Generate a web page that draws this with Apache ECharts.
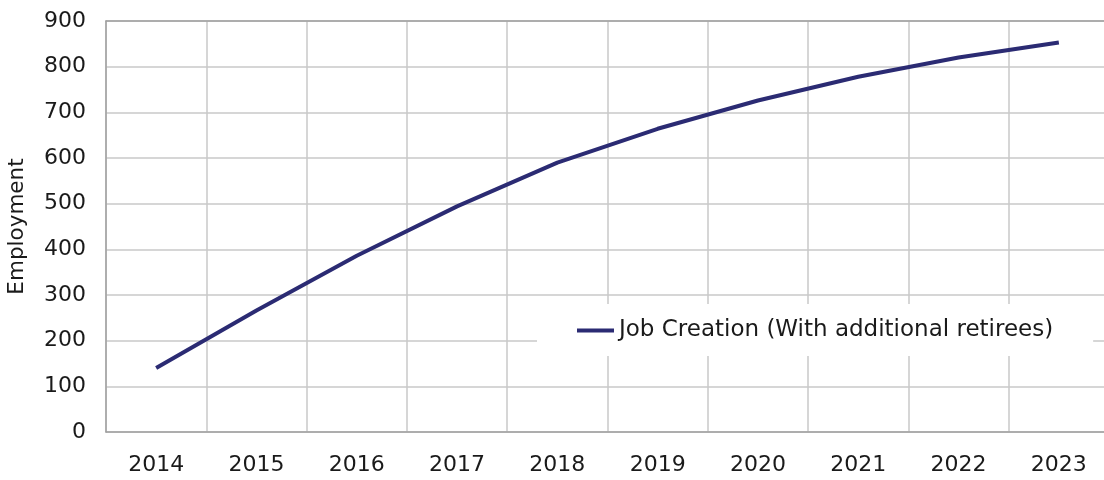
<!DOCTYPE html>
<html>
<head>
<meta charset="utf-8">
<script src="https://cdn.jsdelivr.net/npm/echarts@6/dist/echarts.min.js"></script>
<style>
  html, body { margin: 0; padding: 0; background: #fff; }
  #chart { width: 1104px; height: 480px; }
</style>
</head>
<body>
<div id="chart"></div>
<script>
// Projected employment from job creation, 2014–2023
const years = ['2014', '2015', '2016', '2017', '2018', '2019', '2020', '2021', '2022', '2023'];
const jobCreation = [140, 266, 386, 494, 590, 664, 726, 778, 820, 853];
const seriesName = 'Job Creation (With additional retirees)';
const yTicks = { min: 0, max: 900, interval: 100 };

const FONT = 'DejaVu Sans';
const AXIS_GREY = '#a0a0a0';
const GRID_GREY = '#c8c8c8';
const chart = echarts.init(document.getElementById('chart'), null, { renderer: 'canvas' });

chart.setOption({
  animation: false,
  backgroundColor: '#ffffff',
  textStyle: { fontFamily: FONT, color: '#1a1a1a' },
  grid: {
    left: 106, top: 21, width: 1003, height: 411,
    outerBoundsMode: 'none',
    show: false,
    containLabel: false
  },
  legend: {
    show: true,
    left: 537, top: 304,
    backgroundColor: '#ffffff',
    padding: [15, 40, 14, 40],
    icon: 'rect',
    itemWidth: 37, itemHeight: 4,
    itemGap: 5,
    textStyle: { fontFamily: FONT, fontSize: 23, color: '#1a1a1a' },
    data: [seriesName]
  },
  xAxis: [{
    type: 'category',
    data: years,
    boundaryGap: true,
    axisLine: { show: true, lineStyle: { color: AXIS_GREY, width: 1.5 } },
    axisTick: { show: false },
    axisLabel: { fontFamily: FONT, fontSize: 22, color: '#1a1a1a', margin: 22 },
    splitLine: { show: true, interval: 0, lineStyle: { color: GRID_GREY, width: 1.5 } }
  }, {
    // top frame line of the plot area
    type: 'category',
    position: 'top',
    data: years,
    boundaryGap: true,
    axisLine: { show: true, lineStyle: { color: AXIS_GREY, width: 1.5 } },
    axisTick: { show: false },
    axisLabel: { show: false },
    splitLine: { show: false }
  }],
  yAxis: {
    type: 'value',
    min: yTicks.min, max: yTicks.max, interval: yTicks.interval,
    name: 'Employment',
    nameLocation: 'middle',
    nameGap: 78,
    nameTextStyle: { fontFamily: FONT, fontSize: 21.5, color: '#1a1a1a' },
    axisLine: { show: true, lineStyle: { color: AXIS_GREY, width: 1.5 } },
    axisTick: { show: false },
    axisLabel: { fontFamily: FONT, fontSize: 22, color: '#1a1a1a', margin: 20 },
    splitLine: { show: true, lineStyle: { color: GRID_GREY, width: 1.5 } }
  },
  series: [{
    name: seriesName,
    type: 'line',
    xAxisIndex: 0,
    data: jobCreation,
    symbol: 'none',
    smooth: false,
    lineStyle: { color: '#2b2b73', width: 4 },
    itemStyle: { color: '#2b2b73' }
  }]
});
</script>
</body>
</html>
